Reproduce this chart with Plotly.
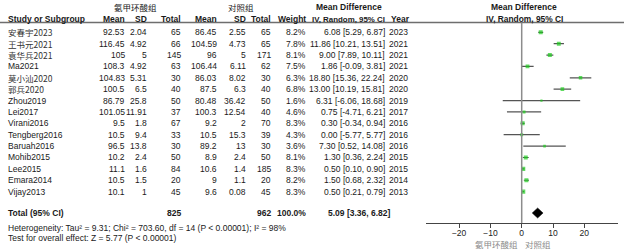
import math
import plotly.graph_objects as go

# ---------------- data ----------------
studies = ["安春宇2023", "王书元2021", "袁华兵2021", "Ma2021", "莫小汕2020", "郭兵2020",
           "Zhou2019", "Lei2017", "Virani2016", "Tengberg2016", "Baruah2016",
           "Mohib2015", "Lee2015", "Emara2014", "Vijay2013"]
exp_mean = [92.53, 116.45, 105, 108.3, 104.83, 100.5, 86.79, 101.05, 9.5, 10.5, 96.5, 10.2, 11.1, 10.5, 10.1]
exp_sd = [2.04, 4.92, 5, 4.92, 5.31, 6.5, 25.8, 11.91, 1.8, 9.4, 13.8, 2.4, 1.6, 1.5, 1]
exp_n = [65, 66, 145, 63, 30, 40, 50, 37, 67, 33, 30, 50, 84, 20, 45]
ctl_mean = [86.45, 104.59, 96, 106.44, 86.03, 87.5, 80.48, 100.3, 9.2, 10.5, 89.2, 8.9, 10.6, 9, 9.6]
ctl_sd = [2.55, 4.73, 5, 6.11, 8.02, 6.3, 36.42, 12.54, 2, 15.3, 13, 2.4, 1.4, 1.1, 0.08]
ctl_n = [65, 65, 171, 62, 30, 40, 50, 40, 70, 39, 30, 50, 185, 20, 45]
weight = [8.2, 7.8, 8.1, 7.5, 6.3, 6.8, 1.6, 4.6, 8.3, 4.3, 3.6, 8.1, 8.3, 8.2, 8.3]
md = [6.08, 11.86, 9.00, 1.86, 18.80, 13.00, 6.31, 0.75, 0.30, 0.00, 7.30, 1.30, 0.50, 1.50, 0.50]
ci_lo = [5.29, 10.21, 7.89, -0.09, 15.36, 10.19, -6.06, -4.71, -0.34, -5.77, 0.52, 0.36, 0.10, 0.68, 0.21]
ci_hi = [6.87, 13.51, 10.11, 3.81, 22.24, 15.81, 18.68, 6.21, 0.94, 5.77, 14.08, 2.24, 0.90, 2.32, 0.79]
years = [2023, 2021, 2021, 2021, 2020, 2020, 2019, 2017, 2016, 2016, 2016, 2015, 2015, 2014, 2013]

total_exp_n = 825
total_ctl_n = 962
total_weight = 100.0
total_md, total_lo, total_hi = 5.09, 3.36, 6.82
heterogeneity = "Heterogeneity: Tau² = 9.31; Chi² = 703.60, df = 14 (P < 0.00001); I² = 98%"
overall_test = "Test for overall effect: Z = 5.77 (P < 0.00001)"
axis_ticks = [-20, -10, 0, 10, 20]
group_exp = "氨甲环酸组"
group_ctl = "对照组"

# ---------------- layout helpers ----------------
W, H = 624, 252
ROW0, ROWH = 32.3, 11.38


def prow(py):
    return (py - ROW0) / ROWH


FONT = "Liberation Sans, Arial, Noto Sans CJK SC, sans-serif"
CJK = "Noto Sans CJK SC, Liberation Sans, sans-serif"
FS = 8.5
TXT = "#1a1a1a"

fig = go.Figure()

rows = list(range(len(studies)))
sizes = [max(2.2, 1.4 * math.sqrt(w)) for w in weight]
fig.add_trace(go.Scatter(
    x=md, y=rows, mode="markers", xaxis="x", yaxis="y",
    marker=dict(symbol="square", color="#1ecc1e", size=sizes, line=dict(width=0)),
    error_x=dict(type="data", symmetric=False,
                 array=[h - m for h, m in zip(ci_hi, md)],
                 arrayminus=[m - l for m, l in zip(md, ci_lo)],
                 color="#555555", thickness=1.2, width=0),
    hoverinfo="skip", showlegend=False))

trow = prow(213.0)
dh = 5.0 / ROWH
fig.add_trace(go.Scatter(
    x=[total_lo, total_md, total_hi, total_md, total_lo],
    y=[trow, trow - dh, trow, trow + dh, trow],
    mode="lines", fill="toself", fillcolor="#000000",
    line=dict(color="#000000", width=0.5), xaxis="x", yaxis="y",
    hoverinfo="skip", showlegend=False))

annots = []


def txt(x, y, s, anchor="right", bold=False, font=FONT, color=TXT, size=FS, xref="x2"):
    if bold:
        s = "<b>" + s + "</b>"
    annots.append(dict(x=x, y=y, xref=xref, yref="y2", text=s, showarrow=False,
                       xanchor=anchor, yanchor="middle", borderpad=0, borderwidth=0,
                       font=dict(family=font, size=size, color=color)))


def g(v):
    return f"{v:g}"


# column right edges (px)
C_STUDY, C_EM, C_ESD, C_EN, C_CM, C_CSD, C_CN, C_W, C_CI, C_Y = 8, 125, 147, 181, 217, 246, 271, 306, 385, 408

for i in rows:
    is_cjk = any(ord(ch) > 0x2E80 for ch in studies[i])
    txt(C_STUDY, i, studies[i], anchor="left", font=CJK if is_cjk else FONT,
        color="#333333" if is_cjk else TXT)
    txt(C_EM, i, g(exp_mean[i]))
    txt(C_ESD, i, g(exp_sd[i]))
    txt(C_EN, i, str(exp_n[i]))
    txt(C_CM, i, g(ctl_mean[i]))
    txt(C_CSD, i, g(ctl_sd[i]))
    txt(C_CN, i, str(ctl_n[i]))
    txt(C_W, i, f"{weight[i]:.1f}%")
    txt(C_CI, i, f"{md[i]:.2f} [{ci_lo[i]:.2f}, {ci_hi[i]:.2f}]")
    txt(C_Y, i, str(years[i]))

# headers
h1, h2 = prow(7.0), prow(19.0)
txt(135, h1, group_exp, anchor="center", font=CJK, color="#222222")
txt(241, h1, group_ctl, anchor="center", font=CJK, color="#222222")
txt(349, h1, "Mean Difference", anchor="center", bold=True)
txt(524, h1, "Mean Difference", anchor="center", bold=True)
txt(C_STUDY, h2, "Study or Subgroup", anchor="left", bold=True)
for x, s in [(C_EM, "Mean"), (C_ESD, "SD"), (C_EN, "Total"), (C_CM, "Mean"),
             (C_CSD, "SD"), (C_CN, "Total"), (C_W, "Weight")]:
    txt(x, h2, s, bold=True)
txt(C_CI, h2, "IV, Random, 95% CI", bold=True, size=7.9)
txt(C_Y + 2, h2, "Year", bold=True)
txt(524, h2, "IV, Random, 95% CI", anchor="center", bold=True, size=8.4)

# totals
txt(C_STUDY, trow, "Total (95% CI)", anchor="left", bold=True)
txt(C_EN, trow, str(total_exp_n), bold=True)
txt(C_CN, trow, str(total_ctl_n), bold=True)
txt(C_W, trow, f"{total_weight:.1f}%", bold=True)
txt(C_CI + 6, trow, f"{total_md:.2f} [{total_lo:.2f}, {total_hi:.2f}]", bold=True)
txt(C_STUDY, prow(228.3), heterogeneity, anchor="left")
txt(C_STUDY, prow(237.5), overall_test, anchor="left")

# favours labels under the axis
txt(-1.2, prow(244.0), group_exp, anchor="right", font=CJK, color="#8a8a8a", xref="x")
txt(1.2, prow(244.0), group_ctl, anchor="left", font=CJK, color="#8a8a8a", xref="x")

shapes = [
    dict(type="line", xref="paper", yref="y2", x0=0, x1=1, y0=prow(22.5), y1=prow(22.5),
         line=dict(color="#6e6e6e", width=1.3)),
    dict(type="line", xref="x", yref="y", x0=0, x1=0, y0=prow(22.5), y1=prow(223.3),
         line=dict(color="#8c8c8c", width=1.5)),
]

fig.update_layout(
    width=W, height=H, margin=dict(l=0, r=0, t=0, b=0),
    paper_bgcolor="white", plot_bgcolor="rgba(0,0,0,0)",
    font=dict(family=FONT, size=FS, color=TXT),
    xaxis=dict(domain=[426 / W, 618 / W], range=[-30.58, 30.77], tickvals=axis_ticks,
               ticks="outside", ticklen=4, tickcolor="#444444", tickwidth=1,
               ticklabelstandoff=-3,
               showline=True, linecolor="#444444", linewidth=1.3, showgrid=False,
               zeroline=False, tickfont=dict(size=FS, color="#222222"), anchor="y",
               fixedrange=True),
    yaxis=dict(domain=[1 - 223.3 / H, 1], range=[prow(223.3), prow(0)], visible=False,
               anchor="x", fixedrange=True),
    xaxis2=dict(domain=[0, 1], range=[0, W], visible=False, anchor="y2", fixedrange=True),
    yaxis2=dict(domain=[0, 1], range=[prow(H), prow(0)], visible=False, anchor="x2",
                fixedrange=True),
    annotations=annots, shapes=shapes, showlegend=False,
)

fig.write_html("out.html", config={"displayModeBar": False},
               post_script="document.body.style.margin='0px';document.body.style.overflow='hidden';")
